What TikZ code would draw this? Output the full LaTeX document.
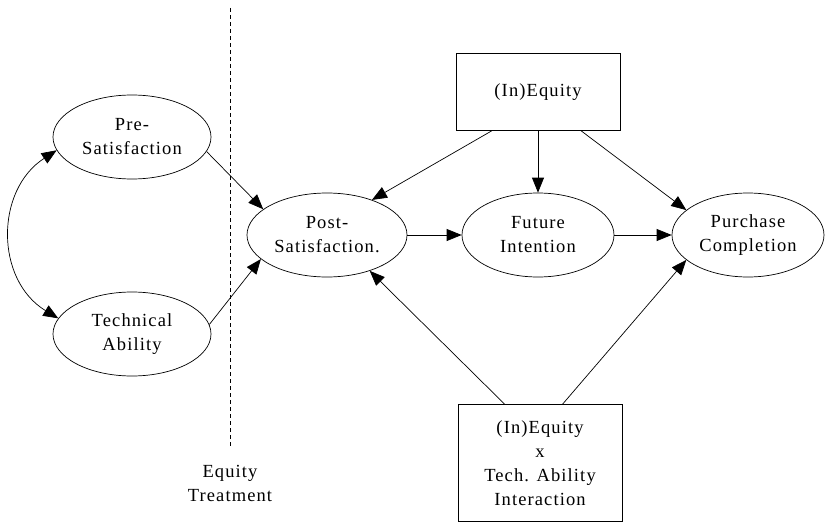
\documentclass[tikz,border=0pt]{standalone}
\usepackage{fontspec}
\setmainfont{Liberation Serif}[LetterSpace=6]
\usetikzlibrary{shapes.geometric,arrows.meta}

\tikzset{
  construct/.style={draw, ellipse, inner sep=0pt, minimum width=158pt, minimum height=84pt, align=center},
  factor/.style={draw, rectangle, inner sep=0pt, minimum width=164pt, align=center},
  path/.style={-{Triangle[length=15pt,width=12pt]}, line width=0.7pt}
}

\begin{document}
\begin{tikzpicture}[x=1pt, y=-1pt, line width=0.7pt, font=\fontsize{18.5}{24}\selectfont]
    \useasboundingbox (0,0) rectangle (827,524);

    \node[construct] (pre)  at (132,137) {Pre-\\Satisfaction};
    \node[construct] (tech) at (132,334) {Technical\\Ability};
    \node[construct, minimum width=160pt] (post) at (327,235) {Post-\\Satisfaction.};
    \node[construct, minimum width=152pt] (fut)  at (538,235) {Future\\Intention};
    \node[construct, minimum width=152pt] (pur)  at (748,235) {Purchase\\Completion};
    \node[factor, minimum height=77pt] (eq) at (538,92) {(In)Equity};
    \node[factor, minimum height=117pt] (inter) at (540,463) {(In)Equity\\x\\Tech. Ability\\Interaction};

    % treatment split
    \coordinate (cut top) at (230,8);
    \coordinate (cut bottom) at (230,448);
    \draw[dash pattern=on 4pt off 3pt] (cut top) -- (cut bottom);
    \node[align=center] (treat) at (230,483) {Equity\\Treatment};

    \draw[{Triangle[length=15pt,width=12pt]}-{Triangle[length=15pt,width=12pt]}]
        (pre.190) .. controls (-5,190) and (-5,280) .. (tech.168);

    \draw[path] (pre.349) -- (post.158);
    \draw[path] (tech.7) -- (post.200);
    \draw[path] (post.east) -- (fut.west);
    \draw[path] (fut.east) -- (pur.west);
    \draw[path] (eq.220) -- (post.38);
    \draw[path] (eq.south) -- (fut.north);
    \draw[path] (eq.318) -- (pur.158);
    \draw[path] (inter.121) -- (post.320);
    \draw[path] (inter.69) -- (pur.202);
\end{tikzpicture}
\end{document}
